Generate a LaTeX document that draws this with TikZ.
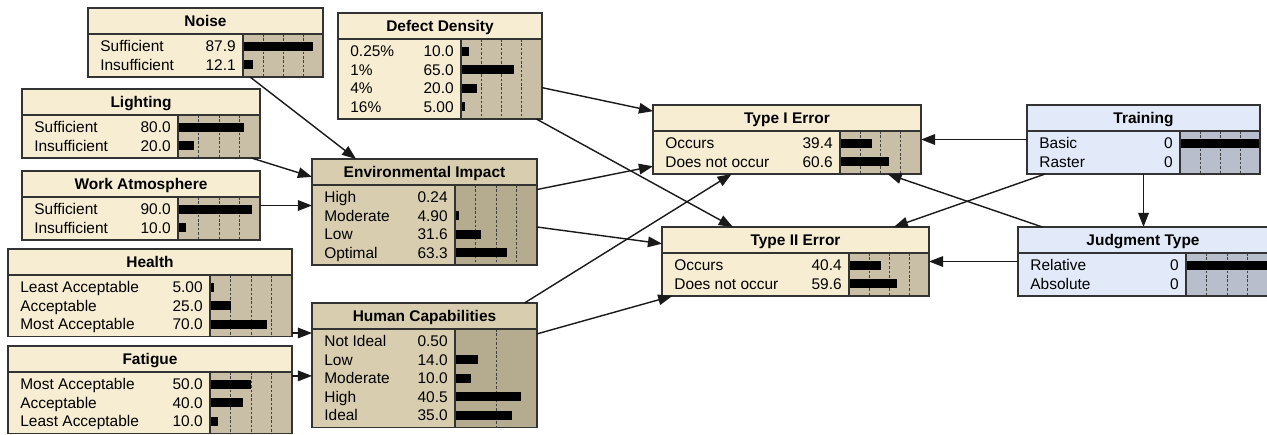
\documentclass[tikz,border=0pt]{standalone}
\usepackage{fontspec}
\setmainfont{Liberation Sans}
\usetikzlibrary{arrows.meta,fit}
\definecolor{bncream}{HTML}{F6EDD2}
\definecolor{bncreambar}{HTML}{C9BFA7}
\definecolor{bntan}{HTML}{D8CEAF}
\definecolor{bntanbar}{HTML}{B5AB8F}
\definecolor{bnblue}{HTML}{E2E9F8}
\definecolor{bnbluebar}{HTML}{B9BECC}
\definecolor{bnline}{HTML}{333333}

\tikzset{
  cream head/.style={fill=bncream}, cream bars/.style={fill=bncreambar},
  tan head/.style={fill=bntan}, tan bars/.style={fill=bntanbar},
  blue head/.style={fill=bnblue}, blue bars/.style={fill=bnbluebar},
  bnframe/.style={draw=bnline, line width=0.9pt, inner sep=0pt, outer sep=0pt},
  bntitle/.style={anchor=base, inner sep=0pt, font=\fontsize{8.8}{10}\selectfont\bfseries},
  rowlabel/.style={anchor=base west, inner sep=0pt},
  rowvalue/.style={anchor=base east, inner sep=0pt},
  gridline/.style={black!75, line width=0.5pt, dash pattern=on 1.5pt off 1pt},
  conn/.style={-{Triangle[length=8pt,width=6pt]}, line width=0.8pt, black!90}
}

% name, left, top, right, bar start, title, colours, rows (label/value/bar), ticks
\newcommand{\bnnode}[9]{%
  \foreach \lab/\val/\len [count=\n] in {#8}{\xdef\bnrows{\n}}%
  \pgfmathsetmacro{\ytop}{#3+26}%
  \pgfmathsetmacro{\ybot}{#3+32+\bnrows*18.5}%
  \fill[#7 head] (#2,#3) rectangle (#4,\ybot);
  \fill[#7 bars] (#5,\ytop) rectangle (#4,\ybot);
  \foreach \tk in {#9}
    \draw[gridline] ({#5+(#4-#5)*\tk/100},\ytop) -- ({#5+(#4-#5)*\tk/100},\ybot);
  \foreach \lab/\val/\len [count=\n] in {#8}{
    \pgfmathsetmacro{\yrow}{\ytop+3+(\n-0.5)*18.5}
    \fill ({#5},\yrow-4.5) rectangle ({#5+(#4-#5)*\len/100},\yrow+4.5);
    \node[rowlabel] (#1-l\n) at (#2+12,\yrow+5.5) {\lab};
    \node[rowvalue] (#1-v\n) at (#5-7,\yrow+5.5) {\val};
  }
  \draw[bnline, line width=1.4pt] (#2,\ytop) -- (#4,\ytop);
  \draw[bnline, line width=0.7pt] (#5,\ytop) -- (#5,\ybot);
  \node[bnframe, fit={(#2,#3) (#4,\ybot)}] (#1) {};
  \node[bntitle] (#1-t) at ({(#2+#4)/2},#3+18.5) {#6};
}

\begin{document}
\begin{tikzpicture}[x=0.02cm, y=-0.02cm, font=\fontsize{8.8}{10}\selectfont]
\useasboundingbox (0,0) rectangle (1267,434);

\bnnode{noise}{88}{8}{323}{243}{Noise}{cream}
  {Sufficient/87.9/87.9, Insufficient/12.1/12.1}{25,50,75}
\bnnode{lighting}{22}{89}{260}{178}{Lighting}{cream}
  {Sufficient/80.0/80, Insufficient/20.0/20}{25,50,75}
\bnnode{work}{22}{171}{260}{178}{Work Atmosphere}{cream}
  {Sufficient/90.0/90, Insufficient/10.0/10}{25,50,75}
\bnnode{health}{8}{249}{292}{210}{Health}{cream}
  {Least Acceptable/5.00/5, Acceptable/25.0/25, Most Acceptable/70.0/70}{25,50,75}
\bnnode{fatigue}{8}{346}{292}{210}{Fatigue}{cream}
  {Most Acceptable/50.0/50, Acceptable/40.0/40, Least Acceptable/10.0/10}{25,50,75}
\bnnode{defect}{338}{13}{542}{461}{Defect Density}{cream}
  {0.25\%/10.0/10, 1\%/65.0/65, 4\%/20.0/20, 16\%/5.00/5}{25,50,75}
\bnnode{env}{312}{159}{537}{455}{Environmental Impact}{tan}
  {High/0.24/0.24, Moderate/4.90/4.9, Low/31.6/31.6, Optimal/63.3/63.3}{25,50,75}
\bnnode{hc}{312}{303}{537}{455}{Human Capabilities}{tan}
  {Not Ideal/0.50/1, Low/14.0/28, Moderate/10.0/20, High/40.5/81, Ideal/35.0/70}{50}
\bnnode{typeI}{653}{105}{921}{840}{Type I Error}{cream}
  {Occurs/39.4/39.4, Does not occur/60.6/60.6}{25,50,75}
\bnnode{typeII}{662}{227}{929}{849}{Type II Error}{cream}
  {Occurs/40.4/40.4, Does not occur/59.6/59.6}{25,50,75}
\bnnode{training}{1027}{105}{1260}{1180}{Training}{blue}
  {Basic/0/100, Raster/0/0}{25,50,75}
\bnnode{judgment}{1018}{227}{1268}{1186}{Judgment Type}{blue}
  {Relative/0/100, Absolute/0/0}{25,50,75}

\coordinate (hl) at ([yshift=2pt]health.south east);
\coordinate (ft) at ([yshift=-17pt]fatigue.north east);

\draw[conn] (noise) -- (env);
\draw[conn] (lighting) -- (env);
\draw[conn] (work.east) -- (work.east -| env.west);
\draw[conn] (hl) -- (hl -| hc.west);
\draw[conn] (ft) -- (ft -| hc.west);
\draw[conn] (defect) -- (typeI);
\draw[conn] (defect) -- (typeII);
\draw[conn] (env) -- (typeI);
\draw[conn] (env) -- (typeII);
\draw[conn] (hc) -- (typeI);
\draw[conn] (hc) -- (typeII);
\draw[conn] (training) -- (typeI);
\draw[conn] (training) -- (typeII);
\draw[conn] (training) -- (training |- judgment.north);
\draw[conn] (judgment) -- (typeI);
\draw[conn] (judgment) -- (typeII);
\end{tikzpicture}
\end{document}
